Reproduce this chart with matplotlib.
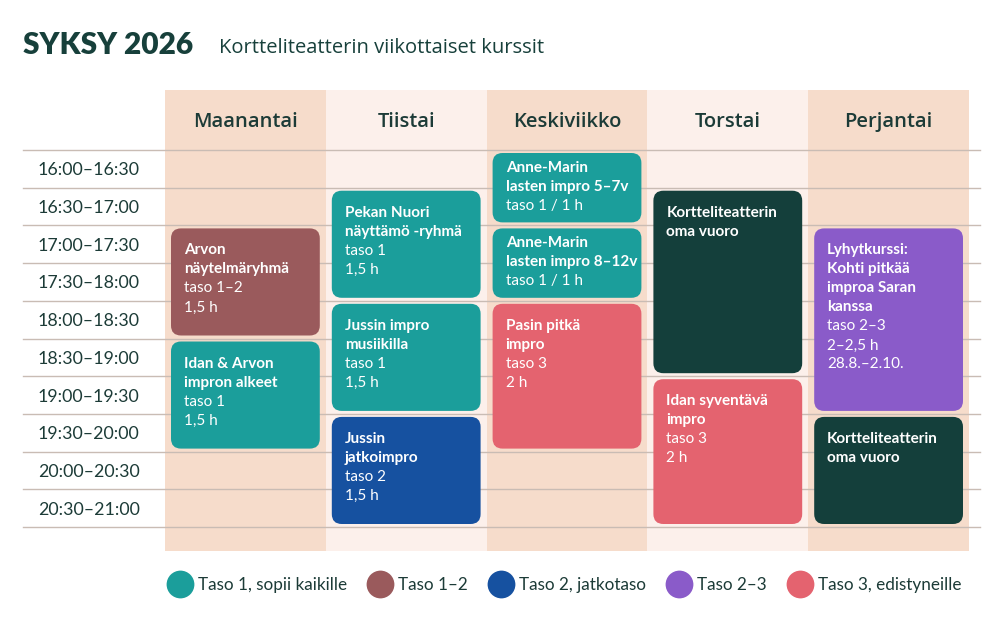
# Weekly course schedule, autumn 2026.

import matplotlib

matplotlib.use("Agg")
import matplotlib.pyplot as plt
from matplotlib.lines import Line2D
from matplotlib.patches import FancyBboxPatch

FONT = "Lato"
HEAD_FONT = "Open Sans"
INK = "#1c3b37"

# --- data -------------------------------------------------------------
DAYS = ["Maanantai", "Tiistai", "Keskiviikko", "Torstai", "Perjantai"]
SLOT_LABELS = [
    "16:00–16:30", "16:30–17:00", "17:00–17:30", "17:30–18:00", "18:00–18:30",
    "18:30–19:00", "19:00–19:30", "19:30–20:00", "20:00–20:30", "20:30–21:00",
]
SLOT_START = [16.0, 16.5, 17.0, 17.5, 18.0, 18.5, 19.0, 19.5, 20.0, 20.5]

COURSE_DAY = [0, 0, 1, 1, 1, 2, 2, 2, 3, 3, 4, 4]
COURSE_START = [17.0, 18.5, 16.5, 18.0, 19.5, 16.0, 17.0, 18.0, 16.5, 19.0, 17.0, 19.5]
COURSE_END = [18.5, 20.0, 18.0, 19.5, 21.0, 17.0, 18.0, 20.0, 19.0, 21.0, 19.5, 21.0]
COURSE_TITLE = [
    ["Arvon", "näytelmäryhmä"],
    ["Idan & Arvon", "impron alkeet"],
    ["Pekan Nuori", "näyttämö -ryhmä"],
    ["Jussin impro", "musiikilla"],
    ["Jussin", "jatkoimpro"],
    ["Anne-Marin", "lasten impro 5–7v"],
    ["Anne-Marin", "lasten impro 8–12v"],
    ["Pasin pitkä", "impro"],
    ["Kortteliteatterin", "oma vuoro"],
    ["Idan syventävä", "impro"],
    ["Lyhytkurssi:", "Kohti pitkää", "improa Saran", "kanssa"],
    ["Kortteliteatterin", "oma vuoro"],
]
COURSE_INFO = [
    ["taso 1–2", "1,5 h"],
    ["taso 1", "1,5 h"],
    ["taso 1", "1,5 h"],
    ["taso 1", "1,5 h"],
    ["taso 2", "1,5 h"],
    ["taso 1 / 1 h"],
    ["taso 1 / 1 h"],
    ["taso 3", "2 h"],
    [],
    ["taso 3", "2 h"],
    ["taso 2–3", "2–2,5 h", "28.8.–2.10."],
    [],
]
COURSE_LEVEL = ["t12", "t1", "t1", "t1", "t2", "t1", "t1", "t3", "own", "t3", "t23", "own"]

LEVEL_KEYS = ["t1", "t12", "t2", "t23", "t3"]
LEVEL_LABELS = ["Taso 1, sopii kaikille", "Taso 1–2", "Taso 2, jatkotaso", "Taso 2–3", "Taso 3, edistyneille"]
LEVEL_COLORS = {
    "t1": "#1b9e9b",
    "t12": "#9a5a5c",
    "t2": "#1651a0",
    "t23": "#8a5bc9",
    "t3": "#e4636f",
    "own": "#143f3b",
}
COLUMN_COLORS = ["#f6dccb", "#fcf0eb", "#f6dccb", "#fcf0eb", "#f6dccb"]

# --- layout (pixels of a 1000x626 canvas) ------------------------------
W, H = 1000, 626
GRID_LEFT, GRID_RIGHT = 165, 969
GRID_TOP, GRID_BOTTOM = 150, 527
PX_X = (GRID_RIGHT - GRID_LEFT) / len(DAYS)
PX_Y = (GRID_BOTTOM - GRID_TOP) / 5.0

fig = plt.figure(figsize=(W / 100, H / 100), dpi=100)
fig.patch.set_facecolor("white")
ax = fig.add_axes([GRID_LEFT / W, 1 - GRID_BOTTOM / H,
                   (GRID_RIGHT - GRID_LEFT) / W, (GRID_BOTTOM - GRID_TOP) / H])
ax.set_xlim(0, len(DAYS))
ax.set_ylim(21, 16)
ax.set_facecolor("none")
for side in ax.spines.values():
    side.set_visible(False)

# column backgrounds, reaching up into the header band
col_top = 16 - (GRID_TOP - 90) / PX_Y
col_bottom = 21 + (551 - GRID_BOTTOM) / PX_Y
bars = ax.bar(range(len(DAYS)), col_bottom - col_top, bottom=col_top, width=1.0,
              align="edge", color=COLUMN_COLORS, zorder=0)
for b in bars:
    b.set_clip_on(False)

# half-hour rules
for t in SLOT_START + [21.0]:
    ax.axhline(t, xmin=(23 - GRID_LEFT) / (GRID_RIGHT - GRID_LEFT),
               xmax=(980 - GRID_LEFT) / (GRID_RIGHT - GRID_LEFT),
               color="#c9bcb4", lw=1.0, zorder=1, clip_on=False)

# time labels on the left
ax.set_yticks([s + 0.25 for s in SLOT_START])
ax.set_yticklabels(SLOT_LABELS, fontfamily=FONT, fontsize=12.8, color=INK, ha="left")
ax.tick_params(axis="y", length=0, pad=(GRID_LEFT - 38) * 0.72)

# day names in the header
ax.xaxis.tick_top()
ax.set_xticks([i + 0.5 for i in range(len(DAYS))])
ax.set_xticklabels(DAYS, fontfamily=HEAD_FONT, fontsize=14.5, color=INK, fontweight="semibold")
ax.tick_params(axis="x", length=0, pad=13)

# course blocks
inset_x = 6 / PX_X
inset_y = 3 / PX_Y
for day, start, end, title, info, level in zip(
    COURSE_DAY, COURSE_START, COURSE_END, COURSE_TITLE, COURSE_INFO, COURSE_LEVEL
):
    box = FancyBboxPatch(
        (day + inset_x, start + inset_y), 1 - 2 * inset_x, end - start - 2 * inset_y,
        boxstyle=f"round,pad=0,rounding_size={10 / PX_X:.4f}",
        mutation_aspect=PX_X / PX_Y,
        facecolor=LEVEL_COLORS[level], edgecolor="none", zorder=2,
    )
    ax.add_patch(box)
    first = 15 if end - start <= 1.0 else 22
    lines = [(t, "bold") for t in title] + [(t, "normal") for t in info]
    for i, (txt, weight) in enumerate(lines):
        ax.annotate(txt, xy=(day + inset_x, start + inset_y),
                    xytext=(13, -(first + 19 * i)), textcoords="offset pixels",
                    ha="left", va="center", color="white", fontfamily=FONT,
                    fontsize=11.0, fontweight=weight, zorder=3)

# title
fig.text(23 / W, 1 - 45 / H, "SYKSY 2026", fontfamily=FONT, fontweight="heavy",
         fontsize=21.5, color="#17403b", ha="left", va="center")
fig.text(219 / W, 1 - 48 / H, "Kortteliteatterin viikottaiset kurssit", fontfamily=HEAD_FONT,
         fontsize=14.5, color="#17403b", ha="left", va="center")

# legend
handles = [
    Line2D([], [], marker="o", linestyle="none", markersize=20,
           markerfacecolor=LEVEL_COLORS[k], markeredgecolor="none")
    for k in LEVEL_KEYS
]
leg = fig.legend(handles, LEVEL_LABELS, loc="center", bbox_to_anchor=(566 / W, 1 - 585 / H),
                 ncol=5, frameon=False, handlelength=1.1, handletextpad=0.5,
                 columnspacing=1.4, prop={"family": FONT, "size": 12.3})
for t in leg.get_texts():
    t.set_color(INK)

fig.savefig("out.png", dpi=100, facecolor="white")
